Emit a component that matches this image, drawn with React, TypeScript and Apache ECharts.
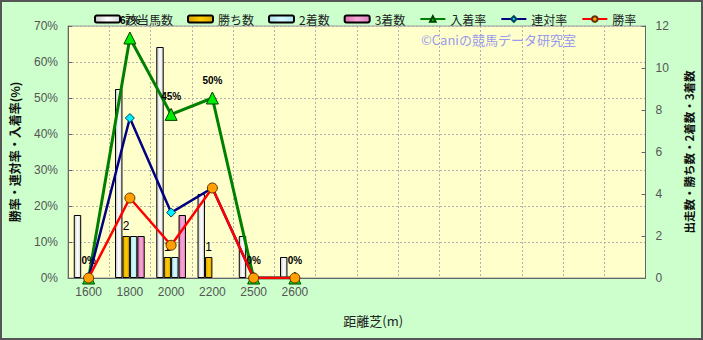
import React, { useEffect, useRef } from "react";
import * as echarts from "echarts";

const distances = ["1600", "1800", "2000", "2200", "2500", "2600"];
const slotCount = 14;
const runners = [3, 9, 11, 4, 2, 1];
const wins = [0, 2, 1, 1, 0, 0];
const seconds = [0, 2, 1, 0, 0, 0];
const thirds = [0, 2, 3, 0, 0, 0];
const placeRate = [0, 66.67, 45.45, 50, 0, 0];
const quinellaRate = [0, 44.44, 18.18, 25, 0, 0];
const winRate = [0, 22.22, 9.09, 25, 0, 0];
const leftTicks = { min: 0, max: 70, interval: 10 };
const rightTicks = { min: 0, max: 12, interval: 2 };

const FONT = "'Liberation Sans', 'Noto Sans CJK JP', sans-serif";
const JFONT = "'Noto Sans CJK JP', sans-serif";

function grad(c1: string, c2: string, c3: string) {
  return new echarts.graphic.LinearGradient(0, 0, 1, 0, [
    { offset: 0, color: c1 },
    { offset: 0.5, color: c2 },
    { offset: 1, color: c3 },
  ]);
}

function barData(arr: number[]) {
  return arr.map((v) => (v === 0 ? { value: v, itemStyle: { borderWidth: 0 } } : v));
}

export default function App() {
  const ref = useRef<HTMLDivElement>(null);
  useEffect(() => {
    if (!ref.current) return;
    const chart = echarts.init(ref.current, undefined, { renderer: "svg" });
    const cats = distances.concat(
      Array.from({ length: slotCount - distances.length }, (_, i) => " ".repeat(i + 1))
    );
    const barBase = {
      type: "bar" as const,
      yAxisIndex: 1,
      barGap: "0%",
      barCategoryGap: "28%",
      itemStyle: { borderColor: "#000", borderWidth: 1 },
    };
    chart.setOption({
      animation: false,
      backgroundColor: "#ccffcc",
      textStyle: { fontFamily: FONT },
      graphic: [
        {
          type: "rect",
          shape: { x: 1, y: 1, width: 701, height: 338 },
          style: { fill: "none", stroke: "#555", lineWidth: 2 },
          silent: true,
          z: 100,
        },
        {
          type: "text",
          left: 421,
          top: 33,
          style: { text: "©Caniの競馬データ研究室", fill: "#9a9aee", font: `13px ${JFONT}` },
          z: 50,
        },
      ],
      legend: {
        left: 89,
        top: 8,
        itemWidth: 25,
        itemHeight: 7,
        itemGap: 14,
        textStyle: { fontSize: 12, color: "#222", fontFamily: JFONT },
        data: ["該当馬数", "勝ち数", "2着数", "3着数", "入着率", "連対率", "勝率"],
      },
      grid: {
        left: 67,
        right: 55,
        top: 26,
        bottom: 62,
        show: true,
        backgroundColor: "#ffffcc",
        borderColor: "#999",
        borderWidth: 1,
      },
      xAxis: {
        type: "category",
        data: cats,
        boundaryGap: true,
        name: "距離芝(m)",
        nameLocation: "middle",
        nameGap: 36,
        nameTextStyle: { fontSize: 13, color: "#222", fontFamily: JFONT, padding: [0, 0, 0, 33] },
        axisLine: { lineStyle: { color: "#666" } },
        axisTick: { show: false },
        axisLabel: { color: "#555", fontSize: 12, margin: 8, interval: 0 },
        splitLine: { show: true, interval: 0, lineStyle: { color: "#b0b0b0", type: [2, 2] } },
      },
      yAxis: [
        {
          type: "value",
          min: leftTicks.min,
          max: leftTicks.max,
          interval: leftTicks.interval,
          name: "勝率・連対率・入着率(%)",
          nameLocation: "middle",
          nameRotate: 90,
          nameGap: 48,
          nameTextStyle: { fontSize: 12, color: "#111", fontFamily: JFONT, fontWeight: "bold" },
          axisLine: { show: true, lineStyle: { color: "#666" } },
          axisTick: { show: true, inside: true, length: 4, lineStyle: { color: "#666" } },
          axisLabel: { formatter: "{value}%", color: "#555", fontSize: 12, margin: 10 },
          splitLine: { show: true, lineStyle: { color: "#b0b0b0", type: [2, 2] } },
        },
        {
          type: "value",
          position: "right",
          min: rightTicks.min,
          max: rightTicks.max,
          interval: rightTicks.interval,
          name: "出走数・勝ち数・2着数・3着数",
          nameLocation: "middle",
          nameRotate: 90,
          nameGap: 38,
          nameTextStyle: { fontSize: 11.5, color: "#111", fontFamily: JFONT, fontWeight: "bold" },
          axisLine: { show: true, lineStyle: { color: "#666" } },
          axisTick: { show: true, inside: true, length: 4, lineStyle: { color: "#666" } },
          axisLabel: { color: "#555", fontSize: 12, margin: 10 },
          splitLine: { show: false },
        },
      ],
      series: [
        {
          ...barBase,
          name: "該当馬数",
          data: barData(runners),
          itemStyle: { ...barBase.itemStyle, color: grad("#c8c8c8", "#ffffff", "#d8d8d8") },
        },
        {
          ...barBase,
          name: "勝ち数",
          data: barData(wins),
          itemStyle: { ...barBase.itemStyle, color: grad("#d9a000", "#ffcc00", "#e0a800") },
          label: {
            show: true,
            position: "top",
            distance: 4,
            color: "#000",
            fontSize: 12,
            formatter: (p: any) => (p.value > 0 ? String(p.value) : ""),
          },
        },
        {
          ...barBase,
          name: "2着数",
          data: barData(seconds),
          itemStyle: { ...barBase.itemStyle, color: grad("#a8e0e8", "#d8f8ff", "#b0e8f0") },
        },
        {
          ...barBase,
          name: "3着数",
          data: barData(thirds),
          itemStyle: { ...barBase.itemStyle, color: grad("#e070b0", "#f8a8d8", "#e080c0") },
        },
        {
          type: "line",
          name: "入着率",
          yAxisIndex: 0,
          data: placeRate,
          symbol: "triangle",
          symbolSize: 12,
          lineStyle: { color: "#008000", width: 3 },
          itemStyle: { color: "#00ee00", borderColor: "#004000", borderWidth: 1 },
          label: {
            show: true,
            position: "top",
            distance: 6,
            color: "#000",
            fontSize: 10,
            fontWeight: "bold",
            formatter: (p: any) => Math.round(p.value) + "%",
          },
          z: 3,
        },
        {
          type: "line",
          name: "連対率",
          yAxisIndex: 0,
          data: quinellaRate,
          symbol: "diamond",
          symbolSize: 9,
          lineStyle: { color: "#000080", width: 2.5 },
          itemStyle: { color: "#00eeff", borderColor: "#004060", borderWidth: 1 },
          z: 4,
        },
        {
          type: "line",
          name: "勝率",
          yAxisIndex: 0,
          data: winRate,
          symbol: "circle",
          symbolSize: 10,
          lineStyle: { color: "#ff0000", width: 2.5 },
          itemStyle: { color: "#ffa000", borderColor: "#603000", borderWidth: 1 },
          z: 5,
        },
      ],
    });
    return () => chart.dispose();
  }, []);
  return (
    <div style={{ position: "fixed", left: 0, top: 0, width: 703, height: 340 }}>
      <div ref={ref} style={{ width: 703, height: 340 }} />
    </div>
  );
}
